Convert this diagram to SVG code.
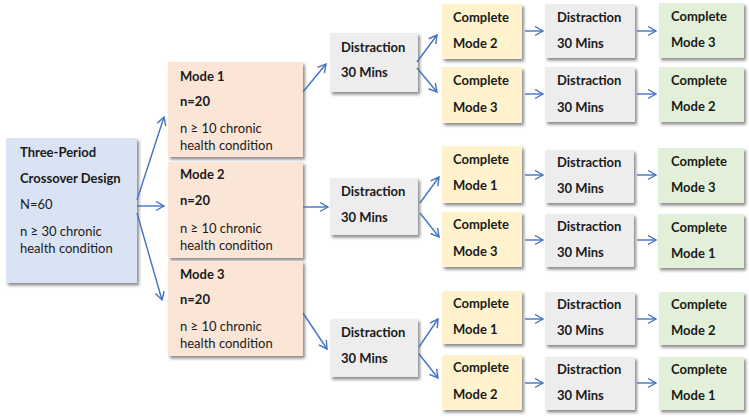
<svg xmlns="http://www.w3.org/2000/svg" width="749" height="419" viewBox="0 0 749 419">
<defs>
<filter id="sh" x="-10%" y="-10%" width="130%" height="130%">
<feDropShadow dx="2" dy="2.5" stdDeviation="1.5" flood-color="#000" flood-opacity="0.45"/>
</filter>
<marker id="ah" markerWidth="12" markerHeight="12" refX="9" refY="5" orient="auto" markerUnits="userSpaceOnUse">
<path d="M1,0.5 L9,5 L1,9.5" fill="none" stroke="#4472C4" stroke-width="1.4"/>
</marker>
<style>
rect{filter:url(#sh);}
.blue{fill:#DAE3F3;}
.pink{fill:#FBE5D6;}
.gray{fill:#EDEDED;}
.yel{fill:#FFF2CC;}
.grn{fill:#E2F0D9;}
text{font-family:Lato,"Liberation Sans",sans-serif;font-size:13px;fill:#1a1a1a;}
.b{font-weight:bold;}
#connectors line{stroke:#4472C4;stroke-width:1.4;marker-end:url(#ah);}
</style>
</defs>
<g id="design">
<rect class="blue" x="6" y="138" width="131" height="145"/>
<text class="b" x="20" y="157">Three-Period</text>
<text class="b" x="20" y="183">Crossover Design</text>
<text x="20" y="209">N=60</text>
<text x="20" y="236">n ≥ 30 chronic</text>
<text x="20" y="253">health condition</text>
</g>
<g id="mode1">
<rect class="pink" x="168" y="62" width="135" height="95"/>
<text class="b" x="180" y="81">Mode 1</text>
<text class="b" x="180" y="106">n=20</text>
<text x="180" y="133">n ≥ 10 chronic</text>
<text x="180" y="150">health condition</text>
</g>
<g id="mode2">
<rect class="pink" x="168" y="162" width="135" height="96"/>
<text class="b" x="180" y="179">Mode 2</text>
<text class="b" x="180" y="205">n=20</text>
<text x="180" y="233">n ≥ 10 chronic</text>
<text x="180" y="250">health condition</text>
</g>
<g id="mode3">
<rect class="pink" x="168" y="261" width="135" height="95"/>
<text class="b" x="180" y="279">Mode 3</text>
<text class="b" x="180" y="304">n=20</text>
<text x="180" y="331">n ≥ 10 chronic</text>
<text x="180" y="348">health condition</text>
</g>
<g id="dist1">
<rect class="gray" x="330" y="33" width="88" height="59"/>
<text class="b" x="341" y="52">Distraction</text>
<text class="b" x="341" y="77">30 Mins</text>
</g>
<g id="dist2">
<rect class="gray" x="330" y="178" width="88" height="57"/>
<text class="b" x="341" y="196">Distraction</text>
<text class="b" x="341" y="222">30 Mins</text>
</g>
<g id="dist3">
<rect class="gray" x="330" y="319" width="88" height="58"/>
<text class="b" x="341" y="337">Distraction</text>
<text class="b" x="341" y="363">30 Mins</text>
</g>
<g id="c1a">
<rect class="yel" x="442" y="4" width="80" height="55"/>
<text class="b" x="453" y="22">Complete</text>
<text class="b" x="453" y="48">Mode 2</text>
</g>
<g id="c1b">
<rect class="yel" x="442" y="67" width="80" height="56"/>
<text class="b" x="453" y="85">Complete</text>
<text class="b" x="453" y="112">Mode 3</text>
</g>
<g id="c2a">
<rect class="yel" x="442" y="146" width="80" height="57"/>
<text class="b" x="453" y="164">Complete</text>
<text class="b" x="453" y="190">Mode 1</text>
</g>
<g id="c2b">
<rect class="yel" x="442" y="212" width="80" height="55"/>
<text class="b" x="453" y="229">Complete</text>
<text class="b" x="453" y="256">Mode 3</text>
</g>
<g id="c3a">
<rect class="yel" x="442" y="291" width="80" height="53"/>
<text class="b" x="453" y="308">Complete</text>
<text class="b" x="453" y="334">Mode 1</text>
</g>
<g id="c3b">
<rect class="yel" x="442" y="355" width="80" height="55"/>
<text class="b" x="453" y="372">Complete</text>
<text class="b" x="453" y="399">Mode 2</text>
</g>
<g id="d1a">
<rect class="gray" x="545" y="4" width="90" height="54"/>
<text class="b" x="557" y="22">Distraction</text>
<text class="b" x="557" y="48">30 Mins</text>
</g>
<g id="d1b">
<rect class="gray" x="545" y="67" width="90" height="55"/>
<text class="b" x="557" y="85">Distraction</text>
<text class="b" x="557" y="112">30 Mins</text>
</g>
<g id="d2a">
<rect class="gray" x="545" y="150" width="89" height="53"/>
<text class="b" x="557" y="167">Distraction</text>
<text class="b" x="557" y="193">30 Mins</text>
</g>
<g id="d2b">
<rect class="gray" x="545" y="214" width="89" height="53"/>
<text class="b" x="557" y="231">Distraction</text>
<text class="b" x="557" y="257">30 Mins</text>
</g>
<g id="d3a">
<rect class="gray" x="545" y="292" width="90" height="53"/>
<text class="b" x="557" y="309">Distraction</text>
<text class="b" x="557" y="335">30 Mins</text>
</g>
<g id="d3b">
<rect class="gray" x="545" y="357" width="90" height="53"/>
<text class="b" x="557" y="374">Distraction</text>
<text class="b" x="557" y="400">30 Mins</text>
</g>
<g id="g1a">
<rect class="grn" x="659" y="3" width="85" height="55"/>
<text class="b" x="671" y="21">Complete</text>
<text class="b" x="671" y="47">Mode 3</text>
</g>
<g id="g1b">
<rect class="grn" x="659" y="67" width="85" height="55"/>
<text class="b" x="671" y="85">Complete</text>
<text class="b" x="671" y="111">Mode 2</text>
</g>
<g id="g2a">
<rect class="grn" x="658" y="148" width="86" height="55"/>
<text class="b" x="671" y="166">Complete</text>
<text class="b" x="671" y="192">Mode 3</text>
</g>
<g id="g2b">
<rect class="grn" x="658" y="214" width="86" height="54"/>
<text class="b" x="671" y="232">Complete</text>
<text class="b" x="671" y="258">Mode 1</text>
</g>
<g id="g3a">
<rect class="grn" x="659" y="292" width="85" height="53"/>
<text class="b" x="671" y="309">Complete</text>
<text class="b" x="671" y="335">Mode 2</text>
</g>
<g id="g3b">
<rect class="grn" x="659" y="357" width="85" height="53"/>
<text class="b" x="671" y="374">Complete</text>
<text class="b" x="671" y="400">Mode 1</text>
</g>
<g id="connectors">
<line x1="137" y1="200" x2="164" y2="117"/>
<line x1="137" y1="206" x2="164" y2="206"/>
<line x1="137" y1="213" x2="162" y2="300"/>
<line x1="303" y1="92" x2="326" y2="64"/>
<line x1="303" y1="207" x2="328" y2="207"/>
<line x1="303" y1="313" x2="327" y2="349"/>
<line x1="417" y1="62" x2="437" y2="35"/>
<line x1="417" y1="68" x2="437" y2="92"/>
<line x1="420" y1="203" x2="439" y2="177"/>
<line x1="420" y1="213" x2="439" y2="237"/>
<line x1="419" y1="347" x2="438" y2="319"/>
<line x1="419" y1="354" x2="438" y2="378"/>
<line x1="525" y1="31" x2="543" y2="31"/>
<line x1="525" y1="94" x2="543" y2="94"/>
<line x1="525" y1="175" x2="543" y2="175"/>
<line x1="525" y1="240" x2="543" y2="240"/>
<line x1="525" y1="319" x2="543" y2="319"/>
<line x1="525" y1="383" x2="543" y2="383"/>
<line x1="637" y1="31" x2="656" y2="31"/>
<line x1="637" y1="94" x2="656" y2="94"/>
<line x1="637" y1="175" x2="656" y2="175"/>
<line x1="637" y1="240" x2="656" y2="240"/>
<line x1="637" y1="319" x2="656" y2="319"/>
<line x1="637" y1="383" x2="656" y2="383"/>
</g>
</svg>
